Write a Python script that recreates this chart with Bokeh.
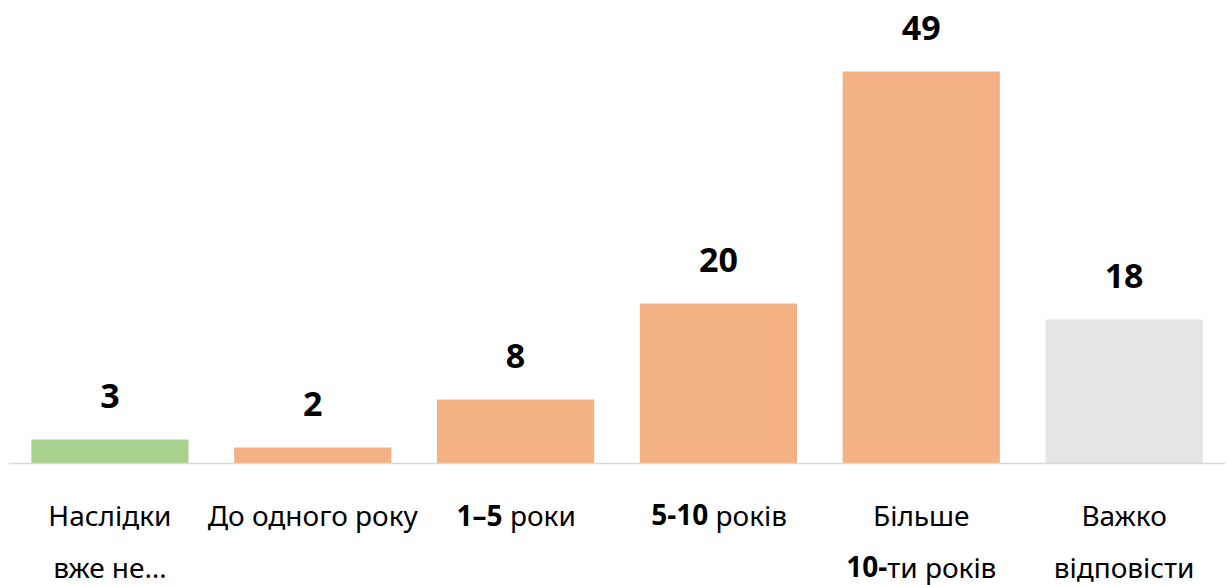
from bokeh.plotting import figure
from bokeh.models import ColumnDataSource, FactorRange, Range1d, Span
from bokeh.core.properties import value
from bokeh.embed import file_html
from bokeh.resources import INLINE

# ---- data ----
categories = ["Наслідки вже не…", "До одного року", "1–5 роки", "5-10 років",
              "Більше 10-ти років", "Важко відповісти"]
values = [3, 2, 8, 20, 49, 18]
line1_bold = ["", "", "1–5", "5-10", "", ""]
line1_regular = ["Наслідки", "До одного року", " роки", " років", "Більше", "Важко"]
line2_bold = ["", "", "", "", "10-", ""]
line2_regular = ["вже не…", "", "", "", "ти років", "відповісти"]

# ---- style ----
bar_colors = ["#a9d18e", "#f4b183", "#f4b183", "#f4b183", "#f4b183", "#e5e5e5"]
FONT = "Noto Sans"
LABEL_SIZE = 28
VALUE_SIZE = 34
TEXT_COLOR = "#000000"

# approximate advance widths (em) for centring mixed bold/regular labels
W_REG = {" ": 0.26, "р": 0.613, "о": 0.602, "к": 0.52, "и": 0.63, "в": 0.6,
         "і": 0.258, "т": 0.48}
W_BOLD = {"1": 0.6, "0": 0.6, "5": 0.6, "–": 0.5, "-": 0.33}


def text_width(s, table, default):
    return sum(table.get(ch, default) for ch in s) * LABEL_SIZE


p = figure(width=1225, height=585,
           x_range=FactorRange(*categories),
           y_range=Range1d(-15.25, 57.875),
           x_axis_location=None, y_axis_location=None,
           toolbar_location=None, output_backend="svg",
           min_border=0, min_border_left=8, outline_line_color=None)
p.xgrid.visible = False
p.ygrid.visible = False
p.background_fill_color = "white"
p.border_fill_color = "white"

src = ColumnDataSource(dict(cat=categories, val=values, color=bar_colors,
                            txt=[str(v) for v in values]))
p.vbar(x="cat", top="val", bottom=0, width=0.775, source=src,
       fill_color="color", line_color=None)

p.add_layout(Span(location=0, dimension="width", line_color="#d9d9d9",
                  line_width=1.5))

p.text(x="cat", y="val", text="txt", source=src, text_align="center",
       text_baseline="alphabetic", y_offset=-44,
       text_font=value(FONT), text_font_style="bold",
       text_font_size=f"{VALUE_SIZE}px", text_color=TEXT_COLOR)


def add_line(bold_parts, reg_parts, y_off):
    centred = dict(cat=[], txt=[])
    bold = dict(cat=[], txt=[], dx=[])
    reg = dict(cat=[], txt=[], dx=[])
    for c, b, r in zip(categories, bold_parts, reg_parts):
        if not b and not r:
            continue
        if not b:
            centred["cat"].append(c)
            centred["txt"].append(r)
            continue
        wb = text_width(b, W_BOLD, 0.6)
        wr = text_width(r, W_REG, 0.57)
        dx = (wb - wr) / 2
        bold["cat"].append(c); bold["txt"].append(b); bold["dx"].append(dx)
        if r:
            stripped = r.lstrip(" ")
            gap = text_width(r[:len(r) - len(stripped)], W_REG, 0.57)
            reg["cat"].append(c); reg["txt"].append(stripped)
            reg["dx"].append(dx + gap)
    common = dict(y=0, y_offset=y_off, text_baseline="alphabetic",
                  text_font=value(FONT), text_font_size=f"{LABEL_SIZE}px",
                  text_color=TEXT_COLOR)
    if centred["cat"]:
        p.text(x="cat", text="txt", source=ColumnDataSource(centred),
               text_align="center", **common)
    if bold["cat"]:
        p.text(x="cat", text="txt", x_offset="dx", source=ColumnDataSource(bold),
               text_align="right", text_font_style="bold", **common)
    if reg["cat"]:
        p.text(x="cat", text="txt", x_offset="dx", source=ColumnDataSource(reg),
               text_align="left", **common)


add_line(line1_bold, line1_regular, 51)
add_line(line2_bold, line2_regular, 103)

open("out.html", "w").write(file_html(p, INLINE))
